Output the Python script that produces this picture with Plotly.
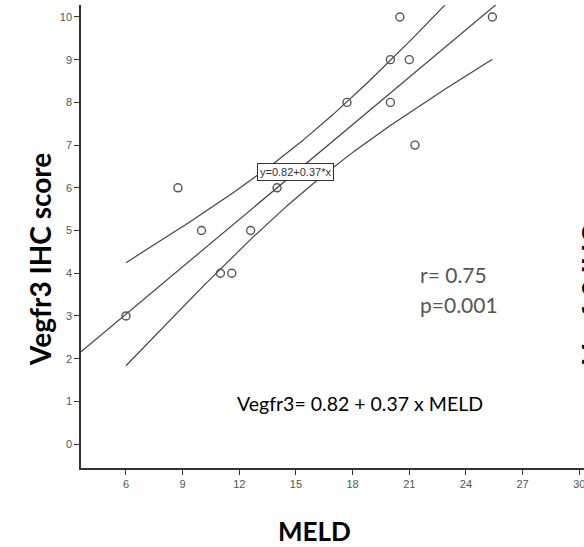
import numpy as np
import plotly.graph_objects as go

# ---- data ----
meld = [6, 8.75, 10, 11, 11.6, 12.6, 14, 17.7, 20, 20, 20.5, 21, 21.3, 25.4]
vegfr3 = [3, 6, 5, 4, 4, 5, 6, 8, 9, 8, 10, 9, 7, 10]
intercept = 0.82
slope = 0.37
t_crit = 2.179  # t(0.975, df=12)
x_ticks = [6, 9, 12, 15, 18, 21, 24, 27, 30]
y_ticks = list(range(0, 11))
x_range = [3.62, 30.25]
y_range = [-0.56, 10.28]

x = np.array(meld, dtype=float)
y = np.array(vegfr3, dtype=float)
n = len(x)
resid = y - (intercept + slope * x)
s = np.sqrt(np.sum(resid ** 2) / (n - 2))
xbar = x.mean()
sxx = np.sum((x - xbar) ** 2)

xf = np.linspace(x_range[0], x_range[1], 200)
yf = intercept + slope * xf
xc = np.linspace(x.min(), x.max(), 200)
yc = intercept + slope * xc
half = t_crit * s * np.sqrt(1.0 / n + (xc - xbar) ** 2 / sxx)

line_col = "#444444"
fig = go.Figure()
fig.add_trace(go.Scatter(x=xf, y=yf, mode="lines", line=dict(color=line_col, width=1.2), hoverinfo="skip"))
fig.add_trace(go.Scatter(x=xc, y=yc + half, mode="lines", line=dict(color=line_col, width=1.2), hoverinfo="skip"))
fig.add_trace(go.Scatter(x=xc, y=yc - half, mode="lines", line=dict(color=line_col, width=1.2), hoverinfo="skip"))
fig.add_trace(go.Scatter(x=meld, y=vegfr3, mode="markers",
                         marker=dict(symbol="circle-open", size=8, color="#555555", line=dict(width=1.4))))

L, R, T, B = 81, 0, 5, 79
W, H = 584, 547
pw = W - L - R
ph = H - T - B

def px(xp):
    return (xp - L) / pw

def py(yp):
    return (H - B - yp) / ph

tick_font = dict(family="Liberation Sans, Arial", size=11, color="#555555")
fig.update_layout(
    width=W, height=H,
    margin=dict(l=L, r=R, t=T, b=B),
    paper_bgcolor="white", plot_bgcolor="white",
    showlegend=False,
    xaxis=dict(range=x_range, tickvals=x_ticks, ticks="outside", ticklen=5, tickwidth=1.3,
               tickcolor="#333333", showline=True, linecolor="#333333", linewidth=1.5,
               showgrid=False, zeroline=False, tickfont=tick_font, ticklabeloverflow="allow"),
    yaxis=dict(range=y_range, tickvals=y_ticks, ticks="outside", ticklen=5, tickwidth=1.3,
               tickcolor="#333333", showline=True, linecolor="#333333", linewidth=1.5,
               showgrid=False, zeroline=False, tickfont=tick_font, ticklabeloverflow="allow"),
    annotations=[
        dict(text="<b>Vegfr3 IHC score</b>", xref="paper", yref="paper", x=px(40), y=py(260),
             xanchor="center", yanchor="middle", textangle=-90, showarrow=False,
             font=dict(family="Lato", size=28, color="#000000")),
        dict(text="<b>Vegfr3 IHC score</b>", xref="paper", yref="paper", x=px(592), y=py(259),
             xanchor="center", yanchor="middle", textangle=-90, showarrow=False,
             font=dict(family="Lato", size=28, color="#000000")),
        dict(text="<b>MELD</b>", xref="paper", yref="paper", x=px(314), y=py(531),
             xanchor="center", yanchor="middle", showarrow=False,
             font=dict(family="Lato", size=26, color="#000000")),
        dict(text="Vegfr3= 0.82 + 0.37 x MELD", xref="paper", yref="paper", x=px(235), y=py(403),
             xanchor="left", yanchor="middle", showarrow=False,
             font=dict(family="Lato", size=19.5, color="#000000")),
        dict(text="r= 0.75", xref="paper", yref="paper", x=px(418), y=py(274),
             xanchor="left", yanchor="middle", showarrow=False,
             font=dict(family="Lato", size=21, color="#555555")),
        dict(text="p=0.001", xref="paper", yref="paper", x=px(418), y=py(304),
             xanchor="left", yanchor="middle", showarrow=False,
             font=dict(family="Lato", size=21, color="#555555")),
        dict(text="y=0.82+0.37*x", xref="x", yref="y", x=14.96, y=6.36,
             xanchor="center", yanchor="middle", showarrow=False,
             bgcolor="white", bordercolor="#333333", borderwidth=1, borderpad=2,
             font=dict(family="Liberation Sans, Arial", size=11, color="#333333")),
    ],
)

fig.write_html("out.html")
